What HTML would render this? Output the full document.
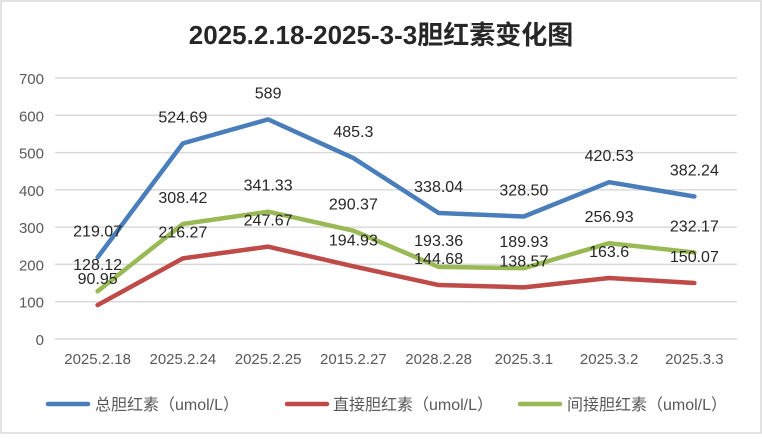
<!DOCTYPE html>
<html><head><meta charset="utf-8">
<style>
html,body{margin:0;padding:0;background:#fff;}
body{width:762px;height:434px;overflow:hidden;font-family:"Liberation Sans","Noto Sans CJK SC",sans-serif;}
</style></head>
<body>
<svg id="chart" width="762" height="434" xmlns="http://www.w3.org/2000/svg" font-family="Liberation Sans, Noto Sans CJK SC, sans-serif">
<rect x="1" y="1" width="760" height="432" fill="#fff" stroke="#d9d9d9" stroke-width="1.5"/>
<text x="381" y="44" text-anchor="middle" font-size="26" font-weight="bold" fill="#262626">2025.2.18-2025-3-3胆红素变化图</text>
<g id="grid"></g><g id="series"></g><g id="labels"></g>
<g font-size="16" fill="#595959">
<g><line x1="48" y1="404" x2="88" y2="404" stroke="#4a7ebb" stroke-width="4.5" stroke-linecap="round"/><text x="95" y="410">总胆红素（umol/L）</text></g>
<g><line x1="287" y1="404" x2="327" y2="404" stroke="#be4b48" stroke-width="4.5" stroke-linecap="round"/><text x="333" y="410">直接胆红素（umol/L）</text></g>
<g><line x1="520" y1="404" x2="560" y2="404" stroke="#98b954" stroke-width="4.5" stroke-linecap="round"/><text x="567" y="410">间接胆红素（umol/L）</text></g>
</g>
</svg>
<script>
const categories=["2025.2.18","2025.2.24","2025.2.25","2015.2.27","2028.2.28","2025.3.1","2025.3.2","2025.3.3"];
const totalValues=[219.07,524.69,589,485.3,338.04,328.50,420.53,382.24];
const totalLabels=["219.07","524.69","589","485.3","338.04","328.50","420.53","382.24"];
const directValues=[90.95,216.27,247.67,194.93,144.68,138.57,163.6,150.07];
const directLabels=["90.95","216.27","247.67","194.93","144.68","138.57","163.6","150.07"];
const indirectValues=[128.12,308.42,341.33,290.37,193.36,189.93,256.93,232.17];
const indirectLabels=["128.12","308.42","341.33","290.37","193.36","189.93","256.93","232.17"];
const yTicks=[0,100,200,300,400,500,600,700];

const NS="http://www.w3.org/2000/svg";
const x0=55,x1=737,y0=339,yTop=78,yMax=700;
const band=(x1-x0)/categories.length;
const xs=i=>x0+band*(i+0.5);
const ys=v=>y0-(v/yMax)*(y0-yTop);
function mk(tag,attrs,parent){const e=document.createElementNS(NS,tag);for(const k in attrs)e.setAttribute(k,attrs[k]);parent.appendChild(e);return e;}
const grid=document.getElementById('grid');
yTicks.forEach(t=>{
  const l=mk('line',{x1:x0,x2:x1,y1:ys(t),y2:ys(t),stroke:'#d9d9d9','stroke-width':1.5},grid);
  
  
  const tx=mk('text',{x:44,y:ys(t)+6,'text-anchor':'end','font-size':15,fill:'#595959'},grid);
  tx.textContent=t;
  
  
});
categories.forEach((c,i)=>{
  const tx=mk('text',{x:xs(i),y:364,'text-anchor':'middle','font-size':15,fill:'#595959'},grid);
  tx.textContent=c;
  
  
});
const ser=document.getElementById('series'),lab=document.getElementById('labels');
function draw(vals,labels,color,name){
  const p=mk('polyline',{points:vals.map((v,i)=>xs(i)+','+ys(v)).join(' '),fill:'none',stroke:color,'stroke-width':4.5,'stroke-linejoin':'round','stroke-linecap':'round'},ser);
  
  
  vals.forEach((v,i)=>{
    const t=mk('text',{x:xs(i),y:ys(v)-21,'text-anchor':'middle','font-size':16,fill:'#262626'},lab);
    t.textContent=labels[i];
    
    
  });
}
draw(totalValues,totalLabels,'#4a7ebb','total');
draw(directValues,directLabels,'#be4b48','direct');
draw(indirectValues,indirectLabels,'#98b954','indirect');
</script>
</body></html>
